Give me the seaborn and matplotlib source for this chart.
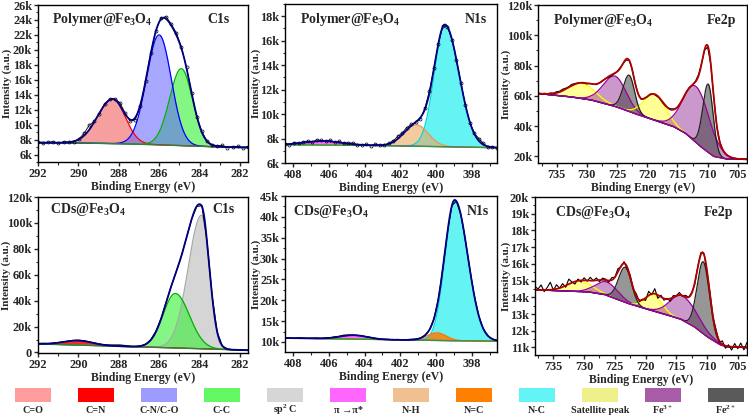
"""
XPS high-resolution spectra (C1s, N1s, Fe2p) of Polymer@Fe3O4 and CDs@Fe3O4
with fitted components and a shared colour legend.
"""

import numpy as np
import matplotlib
matplotlib.use('Agg')
import matplotlib.pyplot as plt
from matplotlib.ticker import MultipleLocator, FuncFormatter
import seaborn as sns

# ---------------------------------------------------------------------------
# Legend entries
# ---------------------------------------------------------------------------

LEGEND_LABELS = ['C=O', 'C=N', 'C-N/C-O', 'C-C', 'sp$^2$ C', 'π →π*',
                 'N-H', 'N=C', 'N-C', 'Satellite peak', 'Fe$^{3+}$', 'Fe$^{2+}$']
LEGEND_COLORS = ['#FF9C9C', '#FF0000', '#9C9CFF', '#63F763', '#D6D6D6', '#FF66FF',
                 '#F0C090', '#FF8000', '#63F5F5', '#F0F08A', '#A85CA8', '#5A5A5A']

# how each component is painted inside the panels: (fill, alpha, edge)
COMP_STYLE = {
    'C=O':            ('#F06060', 0.60, '#FF0000'),
    'C=N':            ('#FF0000', 0.85, '#CC0000'),
    'C-N/C-O':        ('#6060FF', 0.55, '#0000FF'),
    'C-C':            ('#33F033', 0.60, '#00B000'),
    'sp$^2$ C':       ('#C8C8C8', 0.75, '#A8A8A8'),
    'π →π*':          ('#FF33FF', 0.70, '#FF00FF'),
    'N-H':            ('#EEA860', 0.60, '#E89850'),
    'N=C':            ('#FF8000', 0.85, '#FF7000'),
    'N-C':            ('#33F0F0', 0.75, '#00D8D8'),
    'Satellite peak': ('#FFFF40', 0.55, '#FFFF00'),
    'Fe$^{3+}$':      ('#993399', 0.50, '#990099'),
    'Fe$^{2+}$':      ('#404040', 0.55, '#222222'),
}

# ---------------------------------------------------------------------------
# Spectra - intensities in k counts, energies in eV.
# Components: centre, height above background, width on high-BE side,
# width on low-BE side. RAW_DEV = measured counts minus the fit envelope.
# ---------------------------------------------------------------------------

# Polymer@Fe3O4 - C1s
P1_BG_E = [292.0, 290.0, 288.0, 286.0, 284.0, 282.0, 281.6]
P1_BG_I = [7.6, 7.55, 7.45, 7.3, 7.1, 6.95, 6.95]
P1_NAMES = ['C=O', 'C-C', 'C-N/C-O']
P1_CENTER = [288.3, 284.9, 286.0]
P1_HEIGHT = [5.95, 10.3, 14.7]
P1_SIG_HI = [0.75, 0.58, 0.62]
P1_SIG_LO = [0.62, 0.55, 0.6]
P1_RAW_DEV = [0.05, -0.1, 0.08, 0.12, -0.05, 0.1, 0.0, -0.08, 0.05, 0.3, 0.6,
              0.1, -0.1, 0.15, 0.1, 0.1, 0.35, 0.1, -0.2, -0.3, -0.2, 0.0,
              0.2, 0.1, 0.2, 0.3, 0.2, 0.3, 0.2, 0.1, 0.0, -0.1, 0.1, 0.0,
              0.05, 0.1, 0.2, -0.1, 0.05, 0.15, -0.05, 0.1]

# Polymer@Fe3O4 - N1s
P2_BG_E = [408.45, 404.0, 400.0, 396.6]
P2_BG_I = [7.5, 7.45, 7.35, 7.25]
P2_NAMES = ['N-C', 'N-H', 'π →π*']
P2_CENTER = [399.5, 401.1, 406.3]
P2_HEIGHT = [9.9, 1.74, 0.32]
P2_SIG_HI = [0.6, 0.7, 1.0]
P2_SIG_LO = [0.78, 0.65, 1.0]
P2_RAW_DEV = [0.05, -0.05, 0.1, 0.0, 0.08, 0.1, -0.05, 0.12, 0.05, 0.0, 0.1,
              -0.05, 0.08, 0.0, 0.05, 0.1, -0.05, 0.0, 0.05, -0.05, 0.1, 0.0,
              -0.05, 0.05, 0.1, 0.2, 0.15, 0.2, 0.1, 0.0, -0.1, 0.1, 0.2, 0.1,
              0.0, 0.05, 0.0, -0.05, 0.0, 0.05, 0.0, -0.05, 0.05, 0.2, 0.1,
              -0.05, 0.05, 0.0]

# Polymer@Fe3O4 - Fe2p
P3_BG_E = [738.0, 733.0, 729.4, 725.3, 722.3, 719.0, 715.7, 713.7, 711.2,
           709.0, 706.8, 703.5]
P3_BG_I = [61.5, 59.5, 57.4, 53.0, 48.6, 44.2, 39.8, 35.4, 26.6, 20.0, 18.2, 18.0]
P3_NAMES = ['Satellite peak', 'Fe$^{3+}$', 'Satellite peak', 'Fe$^{3+}$',
            'Fe$^{2+}$', 'Fe$^{2+}$']
P3_CENTER = [730.8, 725.3, 718.8, 711.9, 723.0, 709.9]
P3_HEIGHT = [10.0, 20.0, 17.0, 37.0, 24.0, 45.0]
P3_SIG_HI = [2.2, 2.0, 1.8, 2.1, 1.0, 0.9]
P3_SIG_LO = [2.2, 1.8, 1.8, 2.2, 0.9, 0.8]
P3_RAW_DEV = [0.3, -0.2, 0.4, 0.1, 0.6, 0.2, 0.8, 0.5, 1.0, 0.6, 0.4, 0.9,
              0.5, 0.2, 0.0, -0.3, -0.5, 0.2, 0.0, -0.4, -0.2, 0.3, 0.1, -0.5,
              -0.8, -0.3, 0.2, 0.5, -0.2, -0.6, -0.3, 0.2, -0.2, 0.1, -0.5, 0.3,
              -0.2, 0.4, 0.0, -0.6, -0.3, -0.8, -0.5, 0.2, 0.6, 0.3, -0.2, 0.1,
              -0.4, 0.2, 0.4, -0.3, 0.5, 0.8, 0.3, -0.5, -1.0, -0.6, 0.2, -0.3,
              0.1, 0.3, -0.2, 0.2, -0.1, 0.1, 0.0, 0.1, -0.1, 0.0]

# CDs@Fe3O4 - C1s
P4_BG_E = [292.0, 288.0, 286.0, 284.0, 282.0, 281.6]
P4_BG_I = [6.6, 4.8, 3.9, 3.0, 1.9, 1.7]
P4_NAMES = ['sp$^2$ C', 'C=N', 'C-C']
P4_CENTER = [283.9, 290.0, 285.2]
P4_HEIGHT = [103.0, 3.5, 42.0]
P4_SIG_HI = [0.66, 0.7, 0.6]
P4_SIG_LO = [0.38, 0.7, 0.7]
P4_RAW_DEV = [0.4, 0.5, 0.3, 0.4, 0.3, 0.3, 0.2, 0.3, 0.3, 0.2, 0.1, 0.2,
              0.1, 0.3, 0.5, 0.8, 1.0, 0.7, 0.3, 0.1, 0.0, 0.1, 0.3, 0.5,
              0.3, 0.5, 0.3, 0.0, 0.0, 0.2, 0.0, -0.2, 0.3, 0.0, 0.2, 0.0,
              -0.1, 0.1, 0.0, 0.1, 0.0, 0.0]

# CDs@Fe3O4 - N1s
P5_BG_E = [408.45, 402.9, 400.0, 396.6]
P5_BG_I = [10.96, 10.56, 10.35, 10.2]
P5_NAMES = ['N-C', 'π →π*', 'N=C']
P5_CENTER = [398.95, 404.6, 399.95]
P5_HEIGHT = [33.5, 0.95, 1.85]
P5_SIG_HI = [0.55, 0.75, 0.55]
P5_SIG_LO = [0.72, 0.75, 0.5]
P5_RAW_DEV = [0.15, 0.0, -0.1, 0.1, 0.05, 0.0, 0.05, 0.1, 0.0, 0.1, 0.05,
              0.15, 0.1, 0.2, 0.1, 0.0, -0.05, 0.05, 0.0, 0.05, 0.0, -0.05,
              0.0, 0.05, 0.0, 0.1, 0.05, 0.1, 0.15, 0.1, 0.0, 0.05, 0.0, 0.0,
              0.05, 0.0, -0.05, 0.0, 0.0, 0.05, 0.0, 0.0, 0.05, 0.0, -0.05,
              0.0, 0.05, 0.0]

# CDs@Fe3O4 - Fe2p
P6_BG_E = [738.0, 729.4, 726.7, 722.9, 720.2, 716.4, 714.3, 712.1, 710.0,
           707.8, 706.7, 703.5]
P6_BG_I = [14.45, 14.33, 14.17, 13.64, 13.34, 12.94, 12.7, 12.25, 11.65,
           11.15, 11.05, 11.0]
P6_NAMES = P3_NAMES
P6_CENTER = [730.7, 726.3, 718.7, 714.0, 723.3, 710.6]
P6_HEIGHT = [0.62, 0.8, 0.95, 1.45, 2.1, 4.3]
P6_SIG_HI = [2.0, 1.8, 1.4, 2.0, 1.1, 1.0]
P6_SIG_LO = [2.0, 1.8, 1.4, 2.4, 1.0, 1.0]
P6_RAW_DEV = [0.2, 0.05, 0.3, -0.1, 0.15, 0.45, -0.05, 0.25, 0.0, 0.2, -0.1,
              0.3, 0.05, -0.15, 0.1, -0.1, 0.15, -0.05, 0.2, 0.0, 0.15, -0.1,
              0.1, 0.05, -0.1, 0.15, 0.0, 0.2, -0.05, 0.1, -0.1, 0.1, -0.05,
              0.15, -0.1, 0.05, -0.15, 0.25, -0.05, 0.3, -0.2, 0.1, -0.1, 0.05,
              -0.15, 0.1, 0.0, 0.15, -0.05, 0.1, 0.0, 0.05, -0.1, 0.05, 0.1,
              0.05, -0.05, 0.1, 0.0, 0.15, -0.1, 0.2, -0.15, 0.1, -0.2, 0.2,
              -0.1, 0.25, -0.15, 0.3]

POLY = 'Polymer@Fe$_3$O$_4$'
CDS = 'CDs@Fe$_3$O$_4$'
NAVY = '#000080'
DARK_RED = '#B00000'

PANELS = [
    dict(rect=[0.0508, 0.6124, 0.2807, 0.3756], xlim=(292, 281.6), ylim=(5, 26),
         xstep=(2, 1), ystep=(2, 1), bg_e=P1_BG_E, bg_i=P1_BG_I, names=P1_NAMES,
         center=P1_CENTER, height=P1_HEIGHT, s_hi=P1_SIG_HI, s_lo=P1_SIG_LO,
         raw=P1_RAW_DEV, sample=POLY, core='C1s', sx=0.067, cx=0.914, ty=0.905,
         env=NAVY, bgc='#3A7D3A', markers=True, ylab_x=-0.124),
    dict(rect=[0.3810, 0.6100, 0.2834, 0.3804], xlim=(408.45, 396.6), ylim=(6, 19),
         xstep=(2, 1), ystep=(2, 1), bg_e=P2_BG_E, bg_i=P2_BG_I, names=P2_NAMES,
         center=P2_CENTER, height=P2_HEIGHT, s_hi=P2_SIG_HI, s_lo=P2_SIG_LO,
         raw=P2_RAW_DEV, sample=POLY, core='N1s', sx=0.07, cx=0.951, ty=0.90,
         env=NAVY, bgc='#2E9E2E', markers=True, ylab_x=-0.113),
    dict(rect=[0.7199, 0.6100, 0.2787, 0.3780], xlim=(738, 703.5), ylim=(15.6, 120),
         xstep=(5, 2.5), ystep=(20, 10), bg_e=P3_BG_E, bg_i=P3_BG_I, names=P3_NAMES,
         center=P3_CENTER, height=P3_HEIGHT, s_hi=P3_SIG_HI, s_lo=P3_SIG_LO,
         raw=P3_RAW_DEV, sample=POLY, core='Fe2p', sx=0.07, cx=0.947, ty=0.90,
         env=DARK_RED, bgc='#9900AA', markers=False, ylab_x=-0.132),
    dict(rect=[0.0508, 0.1555, 0.2807, 0.3732], xlim=(292, 281.6), ylim=(-0.4, 120),
         xstep=(2, 1), ystep=(20, 10), bg_e=P4_BG_E, bg_i=P4_BG_I, names=P4_NAMES,
         center=P4_CENTER, height=P4_HEIGHT, s_hi=P4_SIG_HI, s_lo=P4_SIG_LO,
         raw=P4_RAW_DEV, sample=CDS, core='C1s', sx=0.057, cx=0.938, ty=0.917,
         env=NAVY, bgc='#3A7D3A', markers=False, ylab_x=-0.129),
    dict(rect=[0.3810, 0.1579, 0.2834, 0.3732], xlim=(408.45, 396.6), ylim=(7.6, 45),
         xstep=(2, 1), ystep=(5, 2.5), bg_e=P5_BG_E, bg_i=P5_BG_I, names=P5_NAMES,
         center=P5_CENTER, height=P5_HEIGHT, s_hi=P5_SIG_HI, s_lo=P5_SIG_LO,
         raw=P5_RAW_DEV, sample=CDS, core='N1s', sx=0.038, cx=0.962, ty=0.90,
         env=NAVY, bgc='#2E9E2E', markers=False, ylab_x=-0.113),
    dict(rect=[0.7152, 0.1507, 0.2834, 0.3780], xlim=(738, 703.5), ylim=(10.55, 20),
         xstep=(5, 2.5), ystep=(1, 0.5), bg_e=P6_BG_E, bg_i=P6_BG_I, names=P6_NAMES,
         center=P6_CENTER, height=P6_HEIGHT, s_hi=P6_SIG_HI, s_lo=P6_SIG_LO,
         raw=P6_RAW_DEV, sample=CDS, core='Fe2p', sx=0.094, cx=0.934, ty=0.90,
         env=DARK_RED, bgc='#9900AA', markers=False, ylab_x=-0.113),
]

# ---------------------------------------------------------------------------
# Helpers
# ---------------------------------------------------------------------------

def component(e, c, h, s_hi, s_lo):
    """Gaussian line with separate widths either side of the centre."""
    s = np.where(e > c, s_hi, s_lo)
    return h * np.exp(-0.5 * ((e - c) / s) ** 2)


def background(e, bg_e, bg_i):
    return np.interp(e, bg_e[::-1], bg_i[::-1])


def fit_envelope(e, p):
    total = background(e, p['bg_e'], p['bg_i'])
    for c, h, a, b in zip(p['center'], p['height'], p['s_hi'], p['s_lo']):
        total = total + component(e, c, h, a, b)
    return total


def kfmt(v, pos):
    return '0' if abs(v) < 1e-9 else f'{v:g}k'


def draw_panel(fig, p):
    ax = fig.add_axes(p['rect'])
    e = np.linspace(p['xlim'][0], p['xlim'][1], 900)
    bg = background(e, p['bg_e'], p['bg_i'])

    comps = [component(e, c, h, a, b) for c, h, a, b in
             zip(p['center'], p['height'], p['s_hi'], p['s_lo'])]
    for name, comp in zip(p['names'], comps):
        fill, alpha, _ = COMP_STYLE[name]
        ax.fill_between(e, bg, bg + comp, color=fill, alpha=alpha, lw=0)
    for name, comp in zip(p['names'], comps):
        ax.plot(e, bg + comp, color=COMP_STYLE[name][2], lw=0.9)
    ax.plot(e, bg, color=p['bgc'], lw=1.0)

    raw_e = np.linspace(p['xlim'][0], p['xlim'][1], len(p['raw']))
    raw_i = fit_envelope(raw_e, p) + np.array(p['raw'])
    if p['markers']:
        sns.lineplot(x=raw_e, y=raw_i, ax=ax, color='black', lw=0.6, marker='o',
                     markersize=2.2, markerfacecolor='none', markeredgecolor='black',
                     markeredgewidth=0.5, estimator=None)
    else:
        sns.lineplot(x=raw_e, y=raw_i, ax=ax, color='black', lw=0.8, estimator=None)
    sns.lineplot(x=e, y=fit_envelope(e, p), ax=ax, color=p['env'], lw=1.3,
                 estimator=None)

    ax.set_xlim(*p['xlim'])
    ax.set_ylim(*p['ylim'])
    ax.xaxis.set_major_locator(MultipleLocator(p['xstep'][0]))
    ax.xaxis.set_minor_locator(MultipleLocator(p['xstep'][1]))
    ax.yaxis.set_major_locator(MultipleLocator(p['ystep'][0]))
    ax.yaxis.set_minor_locator(MultipleLocator(p['ystep'][1]))
    ax.yaxis.set_major_formatter(FuncFormatter(kfmt))
    ax.tick_params(which='major', direction='out', length=3, width=1,
                   labelsize=8.8, pad=1.2)
    ax.tick_params(which='minor', direction='out', length=1.8, width=0.8)
    for sp in ax.spines.values():
        sp.set_linewidth(1.0)
        sp.set_color('black')
    ax.set_xlabel('Binding Energy (eV)', fontsize=8.5, labelpad=0.5)
    ax.set_ylabel('Intensity (a.u.)', fontsize=8)
    ax.yaxis.set_label_coords(p['ylab_x'], 0.5)
    ax.text(p['sx'], p['ty'], p['sample'], transform=ax.transAxes, fontsize=10,
            ha='left', va='center')
    ax.text(p['cx'], p['ty'], p['core'], transform=ax.transAxes, fontsize=10,
            ha='right', va='center')
    return ax


def draw_legend(fig):
    ax = fig.add_axes([0, 0, 1, 0.0813])
    pos = np.arange(len(LEGEND_LABELS))
    ax.bar(pos, 0.41, bottom=0.47, width=0.57, color=LEGEND_COLORS, lw=0)
    for x, lab in zip(pos, LEGEND_LABELS):
        ax.text(x, 0.235, lab, fontsize=7.3, ha='center', va='center')
    ax.set_xlim(-33 / 63, 715 / 63)
    ax.set_ylim(0, 1)
    ax.axis('off')


# ---------------------------------------------------------------------------
# Figure
# ---------------------------------------------------------------------------

sns.set_theme(style='ticks')
plt.rcParams['font.family'] = ['Liberation Serif', 'DejaVu Serif']
plt.rcParams['font.weight'] = 'bold'
plt.rcParams['axes.labelweight'] = 'bold'
plt.rcParams['mathtext.fontset'] = 'custom'
plt.rcParams['mathtext.rm'] = 'Liberation Serif:bold'
plt.rcParams['mathtext.it'] = 'Liberation Serif:italic:bold'
plt.rcParams['mathtext.bf'] = 'Liberation Serif:bold'
plt.rcParams['mathtext.default'] = 'rm'

fig = plt.figure(figsize=(7.48, 4.18), dpi=100)
for panel in PANELS:
    draw_panel(fig, panel)
draw_legend(fig)

fig.savefig('out.png', dpi=100, facecolor='white')
